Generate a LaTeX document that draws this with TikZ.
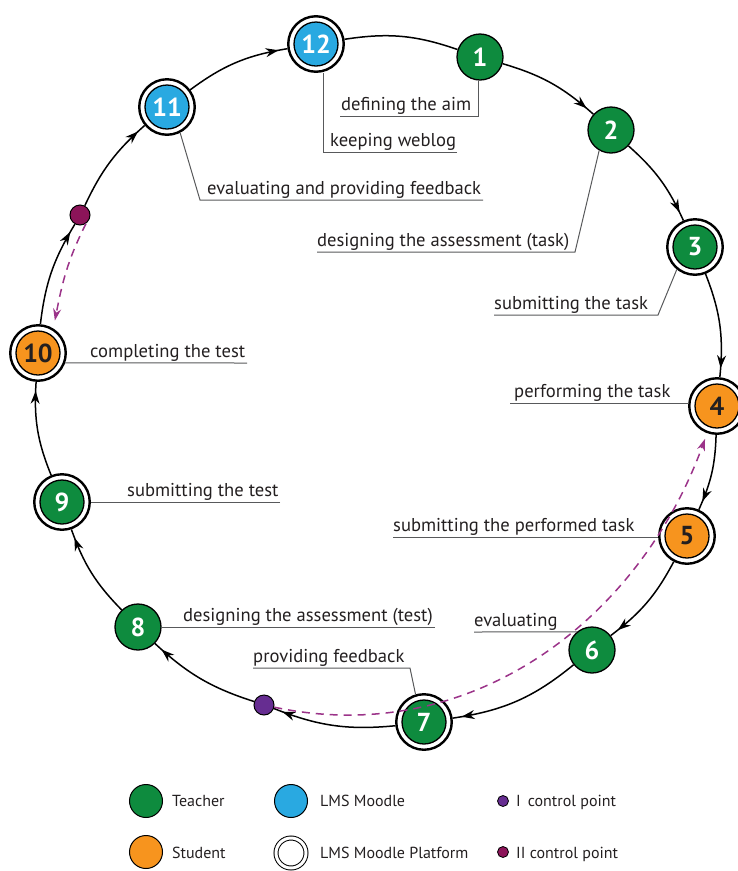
\documentclass[tikz,border=0pt]{standalone}
\usepackage{fontspec}
\setmainfont{PT Sans}
\usetikzlibrary{arrows.meta,decorations.markings,calc}
\definecolor{tgreen}{HTML}{0E8B3E}
\definecolor{tblue}{HTML}{29A9E1}
\definecolor{torange}{HTML}{F7941E}
\definecolor{cI}{HTML}{662D91}
\definecolor{cII}{HTML}{8C1459}
\definecolor{dashc}{HTML}{9B3389}
\definecolor{txtc}{HTML}{231F20}
\definecolor{leadc}{HTML}{58595B}
\begin{document}
\begin{tikzpicture}[x=1pt,y=1pt,
  numf/.style={font=\fontsize{26}{26}\selectfont\bfseries},
  plain/.style={circle, fill=#1, draw=black, line width=1.3pt, minimum size=46pt, inner sep=0pt, numf, text=white},
  dbl/.style={circle, draw=black, line width=2.4pt, minimum size=55.5pt, inner sep=0pt, fill=white, numf, text=white,
     path picture={\draw[line width=1.3pt, fill=#1] (path picture bounding box.center) circle (22pt);}},
  dblo/.style={dbl=#1, text=txtc},
  ctrl/.style={circle, fill=#1, draw=black, line width=1pt, minimum size=20pt, inner sep=0pt},
  lbl/.style={anchor=base west, inner sep=0pt, text=txtc, font=\fontsize{18.6}{21}\selectfont},
  lead/.style={draw=leadc, line width=1pt},
  cyc/.style={line width=1.5pt, postaction={decorate},
     decoration={markings, mark=at position -9pt with {\arrow{Stealth[length=13pt,width=9pt]}}}},
  cycplain/.style={line width=1.5pt},
  dashline/.style={draw=dashc, line width=1.5pt, dash pattern=on 8pt off 6pt, -{Stealth[length=12pt,width=8pt,fill=dashc]}},
  legc/.style={circle, fill=#1, draw=black, line width=1pt, minimum size=33pt, inner sep=0pt},
  legring/.style={circle, draw=black, double=white, double distance=3pt, line width=1pt, minimum size=30pt, inner sep=0pt},
  legd/.style={circle, fill=#1, draw=black, line width=0.8pt, minimum size=11pt, inner sep=0pt},
  legt/.style={anchor=base west, inner sep=0pt, text=txtc, font=\fontsize{16}{18}\selectfont}
]
\useasboundingbox (0,0) rectangle (738,-871);

% cycle nodes
\node[plain=tgreen] (n1) at (480,-57) {1};
\node[plain=tgreen] (n2) at (611,-130) {2};
\node[dbl=tgreen] (n3) at (695,-247) {3};
\node[dblo=torange] (n4) at (717,-406) {4};
\node[dblo=torange] (n5) at (687,-536) {5};
\node[plain=tgreen] (n6) at (592,-650) {6};
\node[dbl=tgreen] (n7) at (424,-722) {7};
\node[ctrl=cI] (dI) at (264,-705) {};
\node[plain=tgreen] (n8) at (138,-627) {8};
\node[dbl=tgreen] (n9) at (62,-502) {9};
\node[dblo=torange] (n10) at (38,-353) {10};
\node[ctrl=cII] (dII) at (80,-215) {};
\node[dbl=tblue] (n11) at (167,-107) {11};
\node[dbl=tblue] (n12) at (316,-44) {12};

% cycle connectors
\draw[cyc] (n1) to[bend left=12.7] (n2);
\draw[cyc] (n2) to[bend left=12] (n3);
\draw[cyc] (n3) to[bend left=13.5] (n4);
\draw[cyc] (n4) to[bend left=11.2] (n5);
\draw[cyc] (n5) to[bend left=12.5] (n6);
\draw[cyc] (n6) to[bend left=15.5] (n7);
\draw[cyc] (n7) to[bend left=13.5] (dI);
\draw[cyc] (dI) to[bend left=12.5] (n8);
\draw[cyc] (n8) to[bend left=12.4] (n9);
\draw[cyc] (n9) to[bend left=12.9] (n10);
\draw[cyc] (n10) to[bend left=12.2] (dII);
\draw[cyc] (dII) to[bend left=11.6] (n11);
\draw[cyc] (n11) to[bend left=13.6] (n12);
\draw[cycplain] (n12) to[bend left=13.9] (n1);

% dashed feedback connectors
\draw[dashline, shorten >=6pt] (dI) to[out=-12, in=-110] (n4);
\draw[dashline, shorten >=8pt] (dII.-55) to[out=-117, in=79] (n10.58);

% labels
\node[lbl] (t1) at (341,-110) {defining the aim};
\coordinate (u1a) at (340,-116); \coordinate (u1b) at (478,-116);
\draw[lead] (u1a) -- (u1b) -- (u1b |- n1.south);

\node[lbl] (t2) at (330,-146) {keeping weblog};
\coordinate (u2a) at (323,-152); \coordinate (u2b) at (457,-152);
\draw[lead] (u2b) -- (u2a) -- (u2a |- n12.south);

\node[lbl] (t3) at (207,-194) {evaluating and providing feedback};
\coordinate (u3a) at (200,-200); \coordinate (u3b) at (483,-200);
\draw[lead] (u3b) -- (u3a) -- (n11.-63);

\node[lbl] (t4) at (317,-246) {designing the assessment (task)};
\coordinate (u4a) at (317,-252); \coordinate (u4b) at (575,-252);
\draw[lead] (u4a) -- (u4b) -- (n2.240);

\node[lbl] (t5) at (494,-309) {submitting the task};
\coordinate (u5a) at (494,-315); \coordinate (u5b) at (658,-315);
\draw[lead] (u5a) -- (u5b) -- (n3.231);

\node[lbl] (t6) at (514,-397) {performing the task};
\coordinate (u6a) at (510,-403);
\draw[lead] (u6a) -- (u6a -| n4.west);

\node[lbl] (t7) at (393,-531) {submitting the performed task};
\coordinate (u7a) at (393,-537);
\draw[lead] (u7a) -- (u7a -| n5.west);

\node[lbl] (t8) at (474,-626) {evaluating};
\coordinate (u8a) at (474,-632);
\draw[lead] (u8a) -- (n6.130);

\node[lbl] (t9) at (183,-621) {designing the assessment (test)};
\coordinate (u9b) at (435,-627);
\draw[lead] (u9b) -- (n8.east);

\node[lbl] (t10) at (253,-662) {providing feedback};
\coordinate (u10a) at (253,-668); \coordinate (u10b) at (410,-668);
\draw[lead] (u10a) -- (u10b) -- (n7.107);

\node[lbl] (t11) at (127,-496) {submitting the test};
\coordinate (u11b) at (280,-502);
\draw[lead] (u11b) -- (n9.east);

\node[lbl] (t12) at (90,-357) {completing the test};
\coordinate (u12b) at (247,-363);
\draw[lead] (u12b) -- (n10.-20);

% legend
\node[legc=tgreen] (lg1) at (146,-801) {};
\node[legt] (lt1) at (172,-806) {Teacher};
\node[legc=tblue] (lg2) at (291,-801) {};
\node[legt] (lt2) at (320,-806) {LMS Moodle};
\node[legd=cI] (lg3) at (503,-801) {};
\node[legt] (lt3) at (516,-806) {I\, control point};
\node[legc=torange] (lg4) at (146,-852) {};
\node[legt] (lt4) at (172,-858) {Student};
\node[legring] (lg5) at (291,-853) {};
\node[legt] (lt5) at (320,-858) {LMS Moodle Platform};
\node[legd=cII] (lg6) at (503,-852) {};
\node[legt] (lt6) at (516,-858) {II control point};
\end{tikzpicture}
\end{document}
